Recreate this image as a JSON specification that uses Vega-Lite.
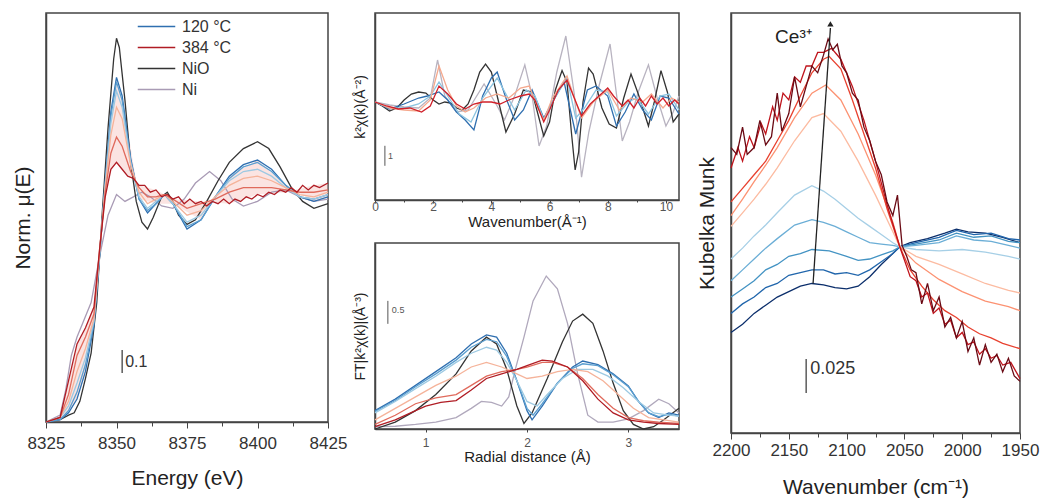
{
"$schema":"https://vega.github.io/schema/vega-lite/v6.json",
"padding":{"left":11,"top":12,"right":0,"bottom":0},
"config":{
 "font":"Liberation Sans",
 "view":{"stroke":"#444","strokeWidth":1.5},
 "axis":{"grid":false,"labelFlush":false,"domainColor":"#444","domainWidth":1.5,"tickColor":"#444","labelColor":"#333","titleColor":"#222","titleFontWeight":"normal"},
 "line":{"strokeWidth":1.3}
},
"datasets":{
"xanes":[
{"s":"Ni","x":8325,"y":0},{"s":"Ni","x":8330,"y":0.03},{"s":"Ni","x":8332,"y":0.14},{"s":"Ni","x":8334,"y":0.29},{"s":"Ni","x":8336,"y":0.37},{"s":"Ni","x":8338,"y":0.43},{"s":"Ni","x":8341,"y":0.52},{"s":"Ni","x":8344,"y":0.72},{"s":"Ni","x":8347,"y":0.9},{"s":"Ni","x":8350,"y":0.99},{"s":"Ni","x":8353,"y":0.96},{"s":"Ni","x":8356,"y":0.98},{"s":"Ni","x":8359,"y":1.0},{"s":"Ni","x":8362,"y":0.98},{"s":"Ni","x":8366,"y":0.94},{"s":"Ni","x":8370,"y":0.93},{"s":"Ni","x":8374,"y":0.97},{"s":"Ni","x":8378,"y":1.04},{"s":"Ni","x":8383,"y":1.09},{"s":"Ni","x":8387,"y":1.05},{"s":"Ni","x":8391,"y":0.97},{"s":"Ni","x":8395,"y":0.94},{"s":"Ni","x":8400,"y":0.96},{"s":"Ni","x":8405,"y":1.0},{"s":"Ni","x":8410,"y":1.01},{"s":"Ni","x":8415,"y":0.98},{"s":"Ni","x":8420,"y":0.96},{"s":"Ni","x":8425,"y":0.97},
{"s":"NiO","x":8325,"y":0},{"s":"NiO","x":8330,"y":0.01},{"s":"NiO","x":8333,"y":0.03},{"s":"NiO","x":8335,"y":0.04},{"s":"NiO","x":8337,"y":0.09},{"s":"NiO","x":8339,"y":0.19},{"s":"NiO","x":8341,"y":0.3},{"s":"NiO","x":8343,"y":0.52},{"s":"NiO","x":8345,"y":0.92},{"s":"NiO","x":8347,"y":1.28},{"s":"NiO","x":8349,"y":1.58},{"s":"NiO","x":8350,"y":1.67},{"s":"NiO","x":8351,"y":1.63},{"s":"NiO","x":8353,"y":1.4},{"s":"NiO","x":8355,"y":1.13},{"s":"NiO","x":8357,"y":0.96},{"s":"NiO","x":8359,"y":0.87},{"s":"NiO","x":8361,"y":0.84},{"s":"NiO","x":8363,"y":0.89},{"s":"NiO","x":8366,"y":0.98},{"s":"NiO","x":8368,"y":1.0},{"s":"NiO","x":8370,"y":0.96},{"s":"NiO","x":8372,"y":0.9},{"s":"NiO","x":8375,"y":0.86},{"s":"NiO","x":8378,"y":0.88},{"s":"NiO","x":8382,"y":0.96},{"s":"NiO","x":8386,"y":1.05},{"s":"NiO","x":8390,"y":1.13},{"s":"NiO","x":8395,"y":1.19},{"s":"NiO","x":8400,"y":1.22},{"s":"NiO","x":8404,"y":1.19},{"s":"NiO","x":8408,"y":1.11},{"s":"NiO","x":8412,"y":1.02},{"s":"NiO","x":8416,"y":0.96},{"s":"NiO","x":8420,"y":0.93},{"s":"NiO","x":8425,"y":0.95},
{"s":"120 °C","x":8325,"y":0},{"s":"120 °C","x":8330,"y":0.01},{"s":"120 °C","x":8333,"y":0.04},{"s":"120 °C","x":8336,"y":0.1},{"s":"120 °C","x":8339,"y":0.22},{"s":"120 °C","x":8342,"y":0.42},{"s":"120 °C","x":8344,"y":0.72},{"s":"120 °C","x":8346,"y":1.05},{"s":"120 °C","x":8348,"y":1.35},{"s":"120 °C","x":8350,"y":1.5},{"s":"120 °C","x":8352,"y":1.42},{"s":"120 °C","x":8355,"y":1.15},{"s":"120 °C","x":8358,"y":0.97},{"s":"120 °C","x":8361,"y":0.91},{"s":"120 °C","x":8364,"y":0.95},{"s":"120 °C","x":8367,"y":0.99},{"s":"120 °C","x":8370,"y":0.95},{"s":"120 °C","x":8375,"y":0.84},{"s":"120 °C","x":8380,"y":0.88},{"s":"120 °C","x":8385,"y":0.98},{"s":"120 °C","x":8390,"y":1.07},{"s":"120 °C","x":8395,"y":1.12},{"s":"120 °C","x":8400,"y":1.14},{"s":"120 °C","x":8405,"y":1.1},{"s":"120 °C","x":8410,"y":1.03},{"s":"120 °C","x":8415,"y":0.98},{"s":"120 °C","x":8420,"y":0.96},{"s":"120 °C","x":8425,"y":0.98},
{"s":"170 °C","x":8325,"y":0},{"s":"170 °C","x":8330,"y":0.01},{"s":"170 °C","x":8333,"y":0.05},{"s":"170 °C","x":8336,"y":0.13},{"s":"170 °C","x":8339,"y":0.25},{"s":"170 °C","x":8342,"y":0.43},{"s":"170 °C","x":8344,"y":0.72},{"s":"170 °C","x":8346,"y":1.04},{"s":"170 °C","x":8348,"y":1.33},{"s":"170 °C","x":8350,"y":1.48},{"s":"170 °C","x":8352,"y":1.4},{"s":"170 °C","x":8355,"y":1.14},{"s":"170 °C","x":8358,"y":0.97},{"s":"170 °C","x":8361,"y":0.92},{"s":"170 °C","x":8364,"y":0.95},{"s":"170 °C","x":8367,"y":0.99},{"s":"170 °C","x":8370,"y":0.95},{"s":"170 °C","x":8375,"y":0.85},{"s":"170 °C","x":8380,"y":0.88},{"s":"170 °C","x":8385,"y":0.98},{"s":"170 °C","x":8390,"y":1.06},{"s":"170 °C","x":8395,"y":1.11},{"s":"170 °C","x":8400,"y":1.13},{"s":"170 °C","x":8405,"y":1.09},{"s":"170 °C","x":8410,"y":1.03},{"s":"170 °C","x":8415,"y":0.98},{"s":"170 °C","x":8420,"y":0.97},{"s":"170 °C","x":8425,"y":0.99},
{"s":"220 °C","x":8325,"y":0},{"s":"220 °C","x":8330,"y":0.02},{"s":"220 °C","x":8333,"y":0.07},{"s":"220 °C","x":8336,"y":0.17},{"s":"220 °C","x":8339,"y":0.28},{"s":"220 °C","x":8342,"y":0.44},{"s":"220 °C","x":8344,"y":0.73},{"s":"220 °C","x":8346,"y":1.03},{"s":"220 °C","x":8348,"y":1.3},{"s":"220 °C","x":8350,"y":1.44},{"s":"220 °C","x":8352,"y":1.37},{"s":"220 °C","x":8355,"y":1.13},{"s":"220 °C","x":8358,"y":0.98},{"s":"220 °C","x":8361,"y":0.93},{"s":"220 °C","x":8364,"y":0.96},{"s":"220 °C","x":8367,"y":0.99},{"s":"220 °C","x":8370,"y":0.95},{"s":"220 °C","x":8375,"y":0.87},{"s":"220 °C","x":8380,"y":0.9},{"s":"220 °C","x":8385,"y":0.98},{"s":"220 °C","x":8390,"y":1.05},{"s":"220 °C","x":8395,"y":1.09},{"s":"220 °C","x":8400,"y":1.1},{"s":"220 °C","x":8405,"y":1.07},{"s":"220 °C","x":8410,"y":1.02},{"s":"220 °C","x":8415,"y":0.98},{"s":"220 °C","x":8420,"y":0.97},{"s":"220 °C","x":8425,"y":0.99},
{"s":"270 °C","x":8325,"y":0},{"s":"270 °C","x":8330,"y":0.02},{"s":"270 °C","x":8333,"y":0.09},{"s":"270 °C","x":8336,"y":0.22},{"s":"270 °C","x":8339,"y":0.32},{"s":"270 °C","x":8342,"y":0.45},{"s":"270 °C","x":8344,"y":0.74},{"s":"270 °C","x":8346,"y":1.02},{"s":"270 °C","x":8348,"y":1.25},{"s":"270 °C","x":8350,"y":1.37},{"s":"270 °C","x":8352,"y":1.32},{"s":"270 °C","x":8355,"y":1.12},{"s":"270 °C","x":8358,"y":1.0},{"s":"270 °C","x":8361,"y":0.95},{"s":"270 °C","x":8364,"y":0.97},{"s":"270 °C","x":8367,"y":0.99},{"s":"270 °C","x":8370,"y":0.96},{"s":"270 °C","x":8375,"y":0.9},{"s":"270 °C","x":8380,"y":0.92},{"s":"270 °C","x":8385,"y":0.98},{"s":"270 °C","x":8390,"y":1.03},{"s":"270 °C","x":8395,"y":1.06},{"s":"270 °C","x":8400,"y":1.07},{"s":"270 °C","x":8405,"y":1.05},{"s":"270 °C","x":8410,"y":1.02},{"s":"270 °C","x":8415,"y":0.99},{"s":"270 °C","x":8420,"y":0.98},{"s":"270 °C","x":8425,"y":1.0},
{"s":"330 °C","x":8325,"y":0},{"s":"330 °C","x":8330,"y":0.02},{"s":"330 °C","x":8333,"y":0.12},{"s":"330 °C","x":8336,"y":0.29},{"s":"330 °C","x":8339,"y":0.37},{"s":"330 °C","x":8342,"y":0.47},{"s":"330 °C","x":8344,"y":0.75},{"s":"330 °C","x":8346,"y":1.0},{"s":"330 °C","x":8348,"y":1.17},{"s":"330 °C","x":8350,"y":1.24},{"s":"330 °C","x":8352,"y":1.2},{"s":"330 °C","x":8355,"y":1.09},{"s":"330 °C","x":8358,"y":1.02},{"s":"330 °C","x":8361,"y":0.98},{"s":"330 °C","x":8364,"y":0.98},{"s":"330 °C","x":8367,"y":0.99},{"s":"330 °C","x":8370,"y":0.97},{"s":"330 °C","x":8375,"y":0.93},{"s":"330 °C","x":8380,"y":0.95},{"s":"330 °C","x":8385,"y":0.97},{"s":"330 °C","x":8390,"y":1.0},{"s":"330 °C","x":8395,"y":1.02},{"s":"330 °C","x":8400,"y":1.02},{"s":"330 °C","x":8405,"y":1.02},{"s":"330 °C","x":8410,"y":1.01},{"s":"330 °C","x":8415,"y":1.0},{"s":"330 °C","x":8420,"y":1.0},{"s":"330 °C","x":8425,"y":1.01},
{"s":"384 °C","x":8325,"y":0},{"s":"384 °C","x":8330,"y":0.02},{"s":"384 °C","x":8333,"y":0.18},{"s":"384 °C","x":8336,"y":0.34},{"s":"384 °C","x":8339,"y":0.41},{"s":"384 °C","x":8342,"y":0.5},{"s":"384 °C","x":8344,"y":0.75},{"s":"384 °C","x":8346,"y":0.98},{"s":"384 °C","x":8348,"y":1.1},{"s":"384 °C","x":8350,"y":1.13},{"s":"384 °C","x":8352,"y":1.1},{"s":"384 °C","x":8354,"y":1.07},{"s":"384 °C","x":8356,"y":1.06},{"s":"384 °C","x":8358,"y":1.03},{"s":"384 °C","x":8360,"y":1.03},{"s":"384 °C","x":8362,"y":1.0},{"s":"384 °C","x":8364,"y":1.01},{"s":"384 °C","x":8366,"y":0.98},{"s":"384 °C","x":8368,"y":0.99},{"s":"384 °C","x":8370,"y":0.97},{"s":"384 °C","x":8372,"y":0.98},{"s":"384 °C","x":8374,"y":0.95},{"s":"384 °C","x":8376,"y":0.97},{"s":"384 °C","x":8378,"y":0.95},{"s":"384 °C","x":8380,"y":0.96},{"s":"384 °C","x":8382,"y":0.94},{"s":"384 °C","x":8384,"y":0.96},{"s":"384 °C","x":8386,"y":0.95},{"s":"384 °C","x":8388,"y":0.97},{"s":"384 °C","x":8390,"y":0.95},{"s":"384 °C","x":8392,"y":0.97},{"s":"384 °C","x":8394,"y":0.96},{"s":"384 °C","x":8396,"y":0.98},{"s":"384 °C","x":8398,"y":0.97},{"s":"384 °C","x":8400,"y":0.99},{"s":"384 °C","x":8402,"y":0.98},{"s":"384 °C","x":8404,"y":1.0},{"s":"384 °C","x":8406,"y":0.99},{"s":"384 °C","x":8408,"y":1.01},{"s":"384 °C","x":8410,"y":1.0},{"s":"384 °C","x":8412,"y":1.02},{"s":"384 °C","x":8414,"y":1.0},{"s":"384 °C","x":8416,"y":1.03},{"s":"384 °C","x":8418,"y":1.01},{"s":"384 °C","x":8420,"y":1.03},{"s":"384 °C","x":8422,"y":1.02},{"s":"384 °C","x":8425,"y":1.04}
],
"exafs":[
{"s":"Ni","x":0,"y":0},{"s":"Ni","x":0.5,"y":-0.15},{"s":"Ni","x":1.0,"y":-0.25},{"s":"Ni","x":1.5,"y":-0.3},{"s":"Ni","x":1.9,"y":0.2},{"s":"Ni","x":2.15,"y":2.1},{"s":"Ni","x":2.4,"y":0.3},{"s":"Ni","x":2.8,"y":-0.5},{"s":"Ni","x":3.2,"y":-0.4},{"s":"Ni","x":3.75,"y":0.9},{"s":"Ni","x":4.2,"y":-0.2},{"s":"Ni","x":4.45,"y":-0.9},{"s":"Ni","x":4.8,"y":0.3},{"s":"Ni","x":5.15,"y":1.86},{"s":"Ni","x":5.4,"y":0.3},{"s":"Ni","x":5.64,"y":-2.2},{"s":"Ni","x":5.9,"y":-1.2},{"s":"Ni","x":6.25,"y":1.5},{"s":"Ni","x":6.56,"y":3.3},{"s":"Ni","x":6.85,"y":0.4},{"s":"Ni","x":7.1,"y":-3.76},{"s":"Ni","x":7.35,"y":-1.5},{"s":"Ni","x":7.7,"y":0.8},{"s":"Ni","x":8.08,"y":2.9},{"s":"Ni","x":8.3,"y":0.4},{"s":"Ni","x":8.5,"y":-1.95},{"s":"Ni","x":8.75,"y":-1.0},{"s":"Ni","x":9.05,"y":0.5},{"s":"Ni","x":9.4,"y":1.86},{"s":"Ni","x":9.7,"y":0.2},{"s":"Ni","x":10.0,"y":-1.2},{"s":"Ni","x":10.25,"y":-0.5},{"s":"Ni","x":10.45,"y":0.3},
{"s":"NiO","x":0,"y":0},{"s":"NiO","x":0.25,"y":-0.2},{"s":"NiO","x":0.5,"y":-0.45},{"s":"NiO","x":0.75,"y":-0.3},{"s":"NiO","x":1.0,"y":0.1},{"s":"NiO","x":1.25,"y":0.4},{"s":"NiO","x":1.5,"y":0.5},{"s":"NiO","x":1.75,"y":0.45},{"s":"NiO","x":2.0,"y":0.1},{"s":"NiO","x":2.2,"y":-0.1},{"s":"NiO","x":2.4,"y":0.0},{"s":"NiO","x":2.6,"y":-0.05},{"s":"NiO","x":2.8,"y":-0.3},{"s":"NiO","x":3.0,"y":-0.4},{"s":"NiO","x":3.2,"y":-0.1},{"s":"NiO","x":3.4,"y":0.6},{"s":"NiO","x":3.6,"y":1.5},{"s":"NiO","x":3.8,"y":1.9},{"s":"NiO","x":4.0,"y":1.5},{"s":"NiO","x":4.2,"y":0.3},{"s":"NiO","x":4.5,"y":-1.5},{"s":"NiO","x":4.8,"y":-0.6},{"s":"NiO","x":5.1,"y":0.6},{"s":"NiO","x":5.4,"y":0.5},{"s":"NiO","x":5.6,"y":-0.6},{"s":"NiO","x":5.8,"y":-1.7},{"s":"NiO","x":6.0,"y":-1.0},{"s":"NiO","x":6.2,"y":0.6},{"s":"NiO","x":6.43,"y":1.57},{"s":"NiO","x":6.6,"y":1.0},{"s":"NiO","x":6.75,"y":-1.5},{"s":"NiO","x":6.88,"y":-3.4},{"s":"NiO","x":7.0,"y":-2.5},{"s":"NiO","x":7.15,"y":0.0},{"s":"NiO","x":7.34,"y":1.7},{"s":"NiO","x":7.5,"y":1.4},{"s":"NiO","x":7.8,"y":-0.3},{"s":"NiO","x":8.05,"y":-1.1},{"s":"NiO","x":8.3,"y":-1.3},{"s":"NiO","x":8.55,"y":0.2},{"s":"NiO","x":8.8,"y":1.4},{"s":"NiO","x":9.05,"y":0.4},{"s":"NiO","x":9.4,"y":-1.2},{"s":"NiO","x":9.6,"y":0.0},{"s":"NiO","x":9.83,"y":1.57},{"s":"NiO","x":10.05,"y":0.5},{"s":"NiO","x":10.25,"y":-1.0},{"s":"NiO","x":10.45,"y":-0.6},
{"s":"120 °C","x":0,"y":0},{"s":"120 °C","x":0.5,"y":-0.35},{"s":"120 °C","x":1.0,"y":-0.1},{"s":"120 °C","x":1.5,"y":0.2},{"s":"120 °C","x":1.8,"y":0.3},{"s":"120 °C","x":2.2,"y":0.5},{"s":"120 °C","x":2.5,"y":0.1},{"s":"120 °C","x":2.8,"y":-0.5},{"s":"120 °C","x":3.1,"y":-0.9},{"s":"120 °C","x":3.4,"y":-1.4},{"s":"120 °C","x":3.7,"y":0.3},{"s":"120 °C","x":4.0,"y":1.2},{"s":"120 °C","x":4.2,"y":1.5},{"s":"120 °C","x":4.5,"y":0.2},{"s":"120 °C","x":4.8,"y":-0.9},{"s":"120 °C","x":5.1,"y":-0.4},{"s":"120 °C","x":5.4,"y":0.6},{"s":"120 °C","x":5.8,"y":-0.8},{"s":"120 °C","x":6.1,"y":0.0},{"s":"120 °C","x":6.5,"y":1.0},{"s":"120 °C","x":6.9,"y":-1.6},{"s":"120 °C","x":7.3,"y":0.6},{"s":"120 °C","x":7.6,"y":0.8},{"s":"120 °C","x":8.0,"y":0.3},{"s":"120 °C","x":8.3,"y":-1.2},{"s":"120 °C","x":8.6,"y":-0.5},{"s":"120 °C","x":8.9,"y":0.4},{"s":"120 °C","x":9.2,"y":-0.4},{"s":"120 °C","x":9.5,"y":-0.9},{"s":"120 °C","x":9.8,"y":0.3},{"s":"120 °C","x":10.1,"y":0.2},{"s":"120 °C","x":10.45,"y":-0.6},
{"s":"220 °C","x":0,"y":0},{"s":"220 °C","x":0.5,"y":-0.3},{"s":"220 °C","x":1.0,"y":-0.3},{"s":"220 °C","x":1.5,"y":-0.1},{"s":"220 °C","x":1.9,"y":0.3},{"s":"220 °C","x":2.2,"y":1.0},{"s":"220 °C","x":2.5,"y":0.3},{"s":"220 °C","x":2.9,"y":-0.6},{"s":"220 °C","x":3.3,"y":-1.0},{"s":"220 °C","x":3.7,"y":0.2},{"s":"220 °C","x":4.2,"y":1.2},{"s":"220 °C","x":4.5,"y":0.4},{"s":"220 °C","x":4.8,"y":-0.4},{"s":"220 °C","x":5.2,"y":0.6},{"s":"220 °C","x":5.5,"y":0.3},{"s":"220 °C","x":5.8,"y":-0.9},{"s":"220 °C","x":6.1,"y":0.0},{"s":"220 °C","x":6.6,"y":1.2},{"s":"220 °C","x":6.9,"y":-0.8},{"s":"220 °C","x":7.2,"y":-0.3},{"s":"220 °C","x":7.6,"y":0.6},{"s":"220 °C","x":8.0,"y":0.5},{"s":"220 °C","x":8.3,"y":-0.7},{"s":"220 °C","x":8.7,"y":0.0},{"s":"220 °C","x":9.0,"y":0.2},{"s":"220 °C","x":9.4,"y":-0.6},{"s":"220 °C","x":9.8,"y":0.3},{"s":"220 °C","x":10.1,"y":0.4},{"s":"220 °C","x":10.45,"y":-0.4},
{"s":"300 °C","x":0,"y":0},{"s":"300 °C","x":0.5,"y":-0.3},{"s":"300 °C","x":1.0,"y":-0.4},{"s":"300 °C","x":1.5,"y":-0.45},{"s":"300 °C","x":1.9,"y":0.1},{"s":"300 °C","x":2.2,"y":1.8},{"s":"300 °C","x":2.5,"y":0.6},{"s":"300 °C","x":2.8,"y":-0.2},{"s":"300 °C","x":3.1,"y":-0.5},{"s":"300 °C","x":3.4,"y":-0.3},{"s":"300 °C","x":3.8,"y":0.2},{"s":"300 °C","x":4.2,"y":0.4},{"s":"300 °C","x":4.6,"y":0.2},{"s":"300 °C","x":5.0,"y":0.7},{"s":"300 °C","x":5.3,"y":0.8},{"s":"300 °C","x":5.6,"y":-0.3},{"s":"300 °C","x":5.8,"y":-0.9},{"s":"300 °C","x":6.1,"y":0.2},{"s":"300 °C","x":6.6,"y":1.3},{"s":"300 °C","x":6.9,"y":0.0},{"s":"300 °C","x":7.1,"y":-0.8},{"s":"300 °C","x":7.5,"y":0.0},{"s":"300 °C","x":8.0,"y":0.6},{"s":"300 °C","x":8.4,"y":-0.4},{"s":"300 °C","x":8.8,"y":0.2},{"s":"300 °C","x":9.2,"y":0.0},{"s":"300 °C","x":9.5,"y":0.4},{"s":"300 °C","x":9.9,"y":-0.3},{"s":"300 °C","x":10.2,"y":0.2},{"s":"300 °C","x":10.45,"y":0.0},
{"s":"384 °C","x":0,"y":0},{"s":"384 °C","x":0.4,"y":-0.2},{"s":"384 °C","x":0.8,"y":-0.35},{"s":"384 °C","x":1.2,"y":-0.3},{"s":"384 °C","x":1.6,"y":-0.5},{"s":"384 °C","x":1.9,"y":-0.2},{"s":"384 °C","x":2.2,"y":0.8},{"s":"384 °C","x":2.5,"y":0.4},{"s":"384 °C","x":2.8,"y":-0.1},{"s":"384 °C","x":3.1,"y":-0.35},{"s":"384 °C","x":3.4,"y":-0.1},{"s":"384 °C","x":3.7,"y":0.0},{"s":"384 °C","x":4.0,"y":0.0},{"s":"384 °C","x":4.3,"y":-0.1},{"s":"384 °C","x":4.6,"y":0.1},{"s":"384 °C","x":5.0,"y":0.3},{"s":"384 °C","x":5.3,"y":0.4},{"s":"384 °C","x":5.5,"y":0.1},{"s":"384 °C","x":5.8,"y":-1.0},{"s":"384 °C","x":6.0,"y":-0.4},{"s":"384 °C","x":6.3,"y":0.6},{"s":"384 °C","x":6.6,"y":1.1},{"s":"384 °C","x":6.85,"y":0.2},{"s":"384 °C","x":7.1,"y":-0.7},{"s":"384 °C","x":7.4,"y":-0.1},{"s":"384 °C","x":7.7,"y":0.3},{"s":"384 °C","x":8.0,"y":0.7},{"s":"384 °C","x":8.2,"y":0.3},{"s":"384 °C","x":8.5,"y":-0.2},{"s":"384 °C","x":8.7,"y":0.1},{"s":"384 °C","x":8.9,"y":-0.3},{"s":"384 °C","x":9.1,"y":0.2},{"s":"384 °C","x":9.3,"y":-0.2},{"s":"384 °C","x":9.5,"y":0.3},{"s":"384 °C","x":9.7,"y":-0.1},{"s":"384 °C","x":9.9,"y":0.2},{"s":"384 °C","x":10.1,"y":-0.2},{"s":"384 °C","x":10.3,"y":0.1},{"s":"384 °C","x":10.45,"y":-0.1}
],
"ft":[
{"s":"Ni","x":0.5,"y":0.05},{"s":"Ni","x":0.7,"y":0.06},{"s":"Ni","x":0.9,"y":0.1},{"s":"Ni","x":1.1,"y":0.15},{"s":"Ni","x":1.3,"y":0.25},{"s":"Ni","x":1.45,"y":0.45},{"s":"Ni","x":1.55,"y":0.6},{"s":"Ni","x":1.65,"y":0.58},{"s":"Ni","x":1.75,"y":0.5},{"s":"Ni","x":1.82,"y":0.7},{"s":"Ni","x":1.88,"y":1.26},{"s":"Ni","x":1.97,"y":2.0},{"s":"Ni","x":2.06,"y":2.79},{"s":"Ni","x":2.19,"y":3.33},{"s":"Ni","x":2.3,"y":3.05},{"s":"Ni","x":2.4,"y":2.3},{"s":"Ni","x":2.5,"y":1.2},{"s":"Ni","x":2.6,"y":0.3},{"s":"Ni","x":2.7,"y":0.15},{"s":"Ni","x":2.85,"y":0.15},{"s":"Ni","x":3.0,"y":0.22},{"s":"Ni","x":3.15,"y":0.4},{"s":"Ni","x":3.3,"y":0.65},{"s":"Ni","x":3.4,"y":0.55},{"s":"Ni","x":3.5,"y":0.35},
{"s":"NiO","x":0.5,"y":0.0},{"s":"NiO","x":0.7,"y":0.15},{"s":"NiO","x":0.9,"y":0.4},{"s":"NiO","x":1.1,"y":0.75},{"s":"NiO","x":1.3,"y":1.2},{"s":"NiO","x":1.45,"y":1.7},{"s":"NiO","x":1.6,"y":2.0},{"s":"NiO","x":1.7,"y":1.85},{"s":"NiO","x":1.8,"y":1.3},{"s":"NiO","x":1.9,"y":0.5},{"s":"NiO","x":1.97,"y":0.12},{"s":"NiO","x":2.05,"y":0.35},{"s":"NiO","x":2.2,"y":1.1},{"s":"NiO","x":2.35,"y":1.9},{"s":"NiO","x":2.45,"y":2.35},{"s":"NiO","x":2.55,"y":2.5},{"s":"NiO","x":2.65,"y":2.3},{"s":"NiO","x":2.75,"y":1.7},{"s":"NiO","x":2.85,"y":1.0},{"s":"NiO","x":2.95,"y":0.4},{"s":"NiO","x":3.05,"y":0.1},{"s":"NiO","x":3.15,"y":0.0},{"s":"NiO","x":3.25,"y":0.05},{"s":"NiO","x":3.35,"y":0.2},{"s":"NiO","x":3.5,"y":0.45},
{"s":"120 °C","x":0.5,"y":0.4},{"s":"120 °C","x":0.7,"y":0.65},{"s":"120 °C","x":0.9,"y":0.95},{"s":"120 °C","x":1.1,"y":1.25},{"s":"120 °C","x":1.3,"y":1.55},{"s":"120 °C","x":1.45,"y":1.85},{"s":"120 °C","x":1.6,"y":2.05},{"s":"120 °C","x":1.7,"y":2.0},{"s":"120 °C","x":1.8,"y":1.65},{"s":"120 °C","x":1.9,"y":1.05},{"s":"120 °C","x":2.0,"y":0.4},{"s":"120 °C","x":2.05,"y":0.2},{"s":"120 °C","x":2.15,"y":0.5},{"s":"120 °C","x":2.3,"y":1.0},{"s":"120 °C","x":2.45,"y":1.35},{"s":"120 °C","x":2.55,"y":1.48},{"s":"120 °C","x":2.7,"y":1.4},{"s":"120 °C","x":2.85,"y":1.2},{"s":"120 °C","x":3.0,"y":0.94},{"s":"120 °C","x":3.1,"y":0.6},{"s":"120 °C","x":3.2,"y":0.35},{"s":"120 °C","x":3.3,"y":0.25},{"s":"120 °C","x":3.4,"y":0.35},{"s":"120 °C","x":3.5,"y":0.3},
{"s":"170 °C","x":0.5,"y":0.38},{"s":"170 °C","x":0.7,"y":0.62},{"s":"170 °C","x":0.9,"y":0.92},{"s":"170 °C","x":1.1,"y":1.2},{"s":"170 °C","x":1.3,"y":1.5},{"s":"170 °C","x":1.45,"y":1.78},{"s":"170 °C","x":1.6,"y":1.95},{"s":"170 °C","x":1.7,"y":1.9},{"s":"170 °C","x":1.8,"y":1.58},{"s":"170 °C","x":1.9,"y":1.05},{"s":"170 °C","x":2.0,"y":0.45},{"s":"170 °C","x":2.06,"y":0.3},{"s":"170 °C","x":2.15,"y":0.55},{"s":"170 °C","x":2.3,"y":1.0},{"s":"170 °C","x":2.45,"y":1.32},{"s":"170 °C","x":2.55,"y":1.42},{"s":"170 °C","x":2.7,"y":1.38},{"s":"170 °C","x":2.85,"y":1.18},{"s":"170 °C","x":3.0,"y":0.92},{"s":"170 °C","x":3.1,"y":0.6},{"s":"170 °C","x":3.2,"y":0.35},{"s":"170 °C","x":3.3,"y":0.27},{"s":"170 °C","x":3.4,"y":0.32},{"s":"170 °C","x":3.5,"y":0.28},
{"s":"220 °C","x":0.5,"y":0.35},{"s":"220 °C","x":0.7,"y":0.6},{"s":"220 °C","x":0.9,"y":0.88},{"s":"220 °C","x":1.1,"y":1.15},{"s":"220 °C","x":1.3,"y":1.45},{"s":"220 °C","x":1.45,"y":1.65},{"s":"220 °C","x":1.6,"y":1.78},{"s":"220 °C","x":1.7,"y":1.72},{"s":"220 °C","x":1.8,"y":1.45},{"s":"220 °C","x":1.9,"y":1.05},{"s":"220 °C","x":2.0,"y":0.6},{"s":"220 °C","x":2.1,"y":0.5},{"s":"220 °C","x":2.2,"y":0.75},{"s":"220 °C","x":2.35,"y":1.1},{"s":"220 °C","x":2.5,"y":1.3},{"s":"220 °C","x":2.65,"y":1.3},{"s":"220 °C","x":2.8,"y":1.15},{"s":"220 °C","x":2.95,"y":0.9},{"s":"220 °C","x":3.1,"y":0.6},{"s":"220 °C","x":3.25,"y":0.35},{"s":"220 °C","x":3.4,"y":0.3},{"s":"220 °C","x":3.5,"y":0.28},
{"s":"270 °C","x":0.5,"y":0.2},{"s":"270 °C","x":0.7,"y":0.45},{"s":"270 °C","x":0.9,"y":0.7},{"s":"270 °C","x":1.1,"y":0.95},{"s":"270 °C","x":1.3,"y":1.15},{"s":"270 °C","x":1.45,"y":1.35},{"s":"270 °C","x":1.6,"y":1.45},{"s":"270 °C","x":1.75,"y":1.35},{"s":"270 °C","x":1.9,"y":1.2},{"s":"270 °C","x":2.0,"y":1.1},{"s":"270 °C","x":2.15,"y":1.15},{"s":"270 °C","x":2.3,"y":1.25},{"s":"270 °C","x":2.45,"y":1.3},{"s":"270 °C","x":2.6,"y":1.25},{"s":"270 °C","x":2.75,"y":1.05},{"s":"270 °C","x":2.9,"y":0.75},{"s":"270 °C","x":3.05,"y":0.45},{"s":"270 °C","x":3.2,"y":0.25},{"s":"270 °C","x":3.35,"y":0.2},{"s":"270 °C","x":3.5,"y":0.15},
{"s":"330 °C","x":0.5,"y":0.1},{"s":"330 °C","x":0.7,"y":0.3},{"s":"330 °C","x":0.9,"y":0.55},{"s":"330 °C","x":1.1,"y":0.68},{"s":"330 °C","x":1.3,"y":0.75},{"s":"330 °C","x":1.45,"y":0.95},{"s":"330 °C","x":1.6,"y":1.15},{"s":"330 °C","x":1.75,"y":1.25},{"s":"330 °C","x":1.9,"y":1.3},{"s":"330 °C","x":2.0,"y":1.35},{"s":"330 °C","x":2.15,"y":1.45},{"s":"330 °C","x":2.25,"y":1.45},{"s":"330 °C","x":2.4,"y":1.35},{"s":"330 °C","x":2.55,"y":1.1},{"s":"330 °C","x":2.7,"y":0.75},{"s":"330 °C","x":2.85,"y":0.45},{"s":"330 °C","x":3.0,"y":0.25},{"s":"330 °C","x":3.15,"y":0.18},{"s":"330 °C","x":3.3,"y":0.15},{"s":"330 °C","x":3.5,"y":0.12},
{"s":"384 °C","x":0.5,"y":0.05},{"s":"384 °C","x":0.7,"y":0.2},{"s":"384 °C","x":0.9,"y":0.4},{"s":"384 °C","x":1.0,"y":0.5},{"s":"384 °C","x":1.15,"y":0.58},{"s":"384 °C","x":1.3,"y":0.62},{"s":"384 °C","x":1.45,"y":0.85},{"s":"384 °C","x":1.6,"y":1.1},{"s":"384 °C","x":1.75,"y":1.2},{"s":"384 °C","x":1.9,"y":1.3},{"s":"384 °C","x":2.0,"y":1.38},{"s":"384 °C","x":2.15,"y":1.5},{"s":"384 °C","x":2.25,"y":1.48},{"s":"384 °C","x":2.4,"y":1.35},{"s":"384 °C","x":2.55,"y":1.05},{"s":"384 °C","x":2.7,"y":0.65},{"s":"384 °C","x":2.85,"y":0.35},{"s":"384 °C","x":3.0,"y":0.2},{"s":"384 °C","x":3.15,"y":0.15},{"s":"384 °C","x":3.3,"y":0.12},{"s":"384 °C","x":3.5,"y":0.1}
],
"drifts":[
{"s":"t01","x":2200,"y":0.074},{"s":"t01","x":2190,"y":0.08},{"s":"t01","x":2180,"y":0.088},{"s":"t01","x":2170,"y":0.094},{"s":"t01","x":2160,"y":0.1},{"s":"t01","x":2150,"y":0.104},{"s":"t01","x":2140,"y":0.108},{"s":"t01","x":2130,"y":0.11},{"s":"t01","x":2120,"y":0.109},{"s":"t01","x":2110,"y":0.107},{"s":"t01","x":2100,"y":0.106},{"s":"t01","x":2090,"y":0.108},{"s":"t01","x":2080,"y":0.115},{"s":"t01","x":2070,"y":0.124},{"s":"t01","x":2060,"y":0.132},{"s":"t01","x":2054,"y":0.137},{"s":"t01","x":2045,"y":0.14},{"s":"t01","x":2030,"y":0.143},{"s":"t01","x":2015,"y":0.147},{"s":"t01","x":2005,"y":0.15},{"s":"t01","x":1995,"y":0.148},{"s":"t01","x":1980,"y":0.147},{"s":"t01","x":1965,"y":0.144},{"s":"t01","x":1950,"y":0.14},
{"s":"t02","x":2200,"y":0.088},{"s":"t02","x":2190,"y":0.095},{"s":"t02","x":2180,"y":0.1},{"s":"t02","x":2170,"y":0.107},{"s":"t02","x":2160,"y":0.11},{"s":"t02","x":2150,"y":0.116},{"s":"t02","x":2140,"y":0.118},{"s":"t02","x":2130,"y":0.12},{"s":"t02","x":2120,"y":0.12},{"s":"t02","x":2110,"y":0.117},{"s":"t02","x":2100,"y":0.118},{"s":"t02","x":2090,"y":0.116},{"s":"t02","x":2080,"y":0.12},{"s":"t02","x":2070,"y":0.126},{"s":"t02","x":2060,"y":0.132},{"s":"t02","x":2054,"y":0.137},{"s":"t02","x":2040,"y":0.14},{"s":"t02","x":2020,"y":0.144},{"s":"t02","x":2005,"y":0.149},{"s":"t02","x":1990,"y":0.146},{"s":"t02","x":1975,"y":0.147},{"s":"t02","x":1960,"y":0.143},{"s":"t02","x":1950,"y":0.142},
{"s":"t03","x":2200,"y":0.1},{"s":"t03","x":2190,"y":0.106},{"s":"t03","x":2180,"y":0.112},{"s":"t03","x":2170,"y":0.12},{"s":"t03","x":2160,"y":0.124},{"s":"t03","x":2150,"y":0.13},{"s":"t03","x":2140,"y":0.132},{"s":"t03","x":2130,"y":0.135},{"s":"t03","x":2115,"y":0.134},{"s":"t03","x":2100,"y":0.13},{"s":"t03","x":2090,"y":0.127},{"s":"t03","x":2080,"y":0.128},{"s":"t03","x":2070,"y":0.131},{"s":"t03","x":2060,"y":0.134},{"s":"t03","x":2054,"y":0.137},{"s":"t03","x":2040,"y":0.139},{"s":"t03","x":2020,"y":0.142},{"s":"t03","x":2005,"y":0.147},{"s":"t03","x":1990,"y":0.144},{"s":"t03","x":1975,"y":0.145},{"s":"t03","x":1960,"y":0.141},{"s":"t03","x":1950,"y":0.14},
{"s":"t04","x":2200,"y":0.112},{"s":"t04","x":2190,"y":0.12},{"s":"t04","x":2180,"y":0.128},{"s":"t04","x":2170,"y":0.136},{"s":"t04","x":2160,"y":0.143},{"s":"t04","x":2145,"y":0.153},{"s":"t04","x":2130,"y":0.157},{"s":"t04","x":2120,"y":0.155},{"s":"t04","x":2110,"y":0.152},{"s":"t04","x":2100,"y":0.148},{"s":"t04","x":2090,"y":0.144},{"s":"t04","x":2080,"y":0.14},{"s":"t04","x":2070,"y":0.139},{"s":"t04","x":2060,"y":0.138},{"s":"t04","x":2054,"y":0.137},{"s":"t04","x":2040,"y":0.138},{"s":"t04","x":2020,"y":0.14},{"s":"t04","x":2005,"y":0.145},{"s":"t04","x":1990,"y":0.142},{"s":"t04","x":1975,"y":0.141},{"s":"t04","x":1960,"y":0.138},{"s":"t04","x":1950,"y":0.136},
{"s":"t05","x":2200,"y":0.128},{"s":"t05","x":2190,"y":0.136},{"s":"t05","x":2180,"y":0.145},{"s":"t05","x":2170,"y":0.153},{"s":"t05","x":2160,"y":0.162},{"s":"t05","x":2145,"y":0.175},{"s":"t05","x":2130,"y":0.182},{"s":"t05","x":2120,"y":0.178},{"s":"t05","x":2110,"y":0.172},{"s":"t05","x":2100,"y":0.165},{"s":"t05","x":2090,"y":0.158},{"s":"t05","x":2080,"y":0.152},{"s":"t05","x":2070,"y":0.146},{"s":"t05","x":2060,"y":0.14},{"s":"t05","x":2054,"y":0.137},{"s":"t05","x":2040,"y":0.135},{"s":"t05","x":2020,"y":0.134},{"s":"t05","x":2000,"y":0.135},{"s":"t05","x":1980,"y":0.133},{"s":"t05","x":1960,"y":0.13},{"s":"t05","x":1950,"y":0.128},
{"s":"t06","x":2200,"y":0.152},{"s":"t06","x":2190,"y":0.162},{"s":"t06","x":2180,"y":0.172},{"s":"t06","x":2170,"y":0.183},{"s":"t06","x":2160,"y":0.195},{"s":"t06","x":2145,"y":0.215},{"s":"t06","x":2130,"y":0.232},{"s":"t06","x":2120,"y":0.235},{"s":"t06","x":2105,"y":0.222},{"s":"t06","x":2090,"y":0.2},{"s":"t06","x":2075,"y":0.175},{"s":"t06","x":2060,"y":0.148},{"s":"t06","x":2054,"y":0.137},{"s":"t06","x":2040,"y":0.13},{"s":"t06","x":2020,"y":0.124},{"s":"t06","x":2000,"y":0.117},{"s":"t06","x":1980,"y":0.11},{"s":"t06","x":1960,"y":0.105},{"s":"t06","x":1950,"y":0.103},
{"s":"t07","x":2200,"y":0.16},{"s":"t07","x":2190,"y":0.172},{"s":"t07","x":2180,"y":0.185},{"s":"t07","x":2170,"y":0.197},{"s":"t07","x":2160,"y":0.21},{"s":"t07","x":2145,"y":0.232},{"s":"t07","x":2130,"y":0.25},{"s":"t07","x":2118,"y":0.256},{"s":"t07","x":2105,"y":0.245},{"s":"t07","x":2090,"y":0.22},{"s":"t07","x":2075,"y":0.19},{"s":"t07","x":2060,"y":0.155},{"s":"t07","x":2054,"y":0.137},{"s":"t07","x":2040,"y":0.125},{"s":"t07","x":2020,"y":0.113},{"s":"t07","x":2000,"y":0.104},{"s":"t07","x":1980,"y":0.097},{"s":"t07","x":1960,"y":0.093},{"s":"t07","x":1950,"y":0.09},
{"s":"t08","x":2200,"y":0.17},{"s":"t08","x":2190,"y":0.18},{"s":"t08","x":2180,"y":0.19},{"s":"t08","x":2170,"y":0.2},{"s":"t08","x":2160,"y":0.215},{"s":"t08","x":2150,"y":0.23},{"s":"t08","x":2140,"y":0.248},{"s":"t08","x":2130,"y":0.265},{"s":"t08","x":2120,"y":0.275},{"s":"t08","x":2115,"y":0.277},{"s":"t08","x":2105,"y":0.268},{"s":"t08","x":2095,"y":0.245},{"s":"t08","x":2085,"y":0.22},{"s":"t08","x":2075,"y":0.195},{"s":"t08","x":2065,"y":0.165},{"s":"t08","x":2054,"y":0.137},{"s":"t08","x":2045,"y":0.12},{"s":"t08","x":2035,"y":0.108},{"s":"t08","x":2025,"y":0.098},{"s":"t08","x":2015,"y":0.09},{"s":"t08","x":2005,"y":0.085},{"s":"t08","x":1995,"y":0.078},{"s":"t08","x":1985,"y":0.073},{"s":"t08","x":1975,"y":0.07},{"s":"t08","x":1965,"y":0.066},{"s":"t08","x":1950,"y":0.062},
{"s":"t09","x":2200,"y":0.195},{"s":"t09","x":2194,"y":0.21},{"s":"t09","x":2190,"y":0.2},{"s":"t09","x":2184,"y":0.218},{"s":"t09","x":2180,"y":0.21},{"s":"t09","x":2174,"y":0.228},{"s":"t09","x":2170,"y":0.22},{"s":"t09","x":2164,"y":0.24},{"s":"t09","x":2160,"y":0.23},{"s":"t09","x":2155,"y":0.25},{"s":"t09","x":2150,"y":0.245},{"s":"t09","x":2145,"y":0.262},{"s":"t09","x":2140,"y":0.258},{"s":"t09","x":2135,"y":0.27},{"s":"t09","x":2130,"y":0.27},{"s":"t09","x":2125,"y":0.28},{"s":"t09","x":2120,"y":0.28},{"s":"t09","x":2113,"y":0.283},{"s":"t09","x":2105,"y":0.275},{"s":"t09","x":2095,"y":0.255},{"s":"t09","x":2085,"y":0.23},{"s":"t09","x":2075,"y":0.2},{"s":"t09","x":2065,"y":0.168},{"s":"t09","x":2054,"y":0.137},{"s":"t09","x":2045,"y":0.115},{"s":"t09","x":2040,"y":0.112},{"s":"t09","x":2035,"y":0.1},{"s":"t09","x":2030,"y":0.103},{"s":"t09","x":2025,"y":0.088},{"s":"t09","x":2020,"y":0.092},{"s":"t09","x":2015,"y":0.08},{"s":"t09","x":2010,"y":0.083},{"s":"t09","x":2005,"y":0.07},{"s":"t09","x":2000,"y":0.074},{"s":"t09","x":1995,"y":0.065},{"s":"t09","x":1990,"y":0.067},{"s":"t09","x":1985,"y":0.058},{"s":"t09","x":1980,"y":0.062},{"s":"t09","x":1975,"y":0.055},{"s":"t09","x":1970,"y":0.057},{"s":"t09","x":1965,"y":0.05},{"s":"t09","x":1958,"y":0.052},{"s":"t09","x":1950,"y":0.04},
{"s":"t10","x":2200,"y":0.21},{"s":"t10","x":2195,"y":0.205},{"s":"t10","x":2190,"y":0.225},{"s":"t10","x":2186,"y":0.205},{"s":"t10","x":2180,"y":0.21},{"s":"t10","x":2175,"y":0.23},{"s":"t10","x":2170,"y":0.212},{"s":"t10","x":2165,"y":0.218},{"s":"t10","x":2160,"y":0.25},{"s":"t10","x":2156,"y":0.222},{"s":"t10","x":2150,"y":0.235},{"s":"t10","x":2145,"y":0.262},{"s":"t10","x":2140,"y":0.24},{"s":"t10","x":2135,"y":0.255},{"s":"t10","x":2130,"y":0.27},{"s":"t10","x":2125,"y":0.265},{"s":"t10","x":2120,"y":0.278},{"s":"t10","x":2116,"y":0.29},{"s":"t10","x":2112,"y":0.282},{"s":"t10","x":2108,"y":0.286},{"s":"t10","x":2104,"y":0.27},{"s":"t10","x":2100,"y":0.265},{"s":"t10","x":2095,"y":0.25},{"s":"t10","x":2090,"y":0.245},{"s":"t10","x":2085,"y":0.225},{"s":"t10","x":2080,"y":0.215},{"s":"t10","x":2075,"y":0.2},{"s":"t10","x":2070,"y":0.19},{"s":"t10","x":2065,"y":0.17},{"s":"t10","x":2060,"y":0.16},{"s":"t10","x":2056,"y":0.175},{"s":"t10","x":2052,"y":0.138},{"s":"t10","x":2048,"y":0.13},{"s":"t10","x":2044,"y":0.12},{"s":"t10","x":2040,"y":0.118},{"s":"t10","x":2035,"y":0.095},{"s":"t10","x":2030,"y":0.11},{"s":"t10","x":2025,"y":0.09},{"s":"t10","x":2020,"y":0.1},{"s":"t10","x":2015,"y":0.078},{"s":"t10","x":2010,"y":0.085},{"s":"t10","x":2005,"y":0.07},{"s":"t10","x":2000,"y":0.082},{"s":"t10","x":1995,"y":0.06},{"s":"t10","x":1990,"y":0.07},{"s":"t10","x":1985,"y":0.05},{"s":"t10","x":1980,"y":0.065},{"s":"t10","x":1975,"y":0.052},{"s":"t10","x":1970,"y":0.058},{"s":"t10","x":1965,"y":0.045},{"s":"t10","x":1960,"y":0.055},{"s":"t10","x":1955,"y":0.042},{"s":"t10","x":1950,"y":0.038}
],
"bar1":[{"x":8352,"y":0.213,"y2":0.313,"ym":0.263,"t":"0.1"}],
"bar2":[{"x":0.34,"y":-3.19,"y2":-2.19,"ym":-2.69,"t":"1"}],
"bar3":[{"x":0.627,"y":2.29,"y2":2.79,"ym":2.6,"t":"0.5"}],
"bar4":[{"x":2135,"y":0.0294,"y2":0.0544,"ym":0.047,"t":"0.025"}],
"arrow":[{"x":2129,"y":0.11,"x2":2114,"y2":0.298}],
"head":[{"x":2114,"y":0.301}],
"lab4":[{"x":2146,"y":0.291,"t":"Ce³⁺"}]
},
"hconcat":[
 {"hconcat":[
  {"width":282,"height":409,
   "resolve":{"axis":{"x":"independent"}},
   "layer":[
    {"data":{"name":"xanes"},
     "transform":[{"filter":{"field":"s","oneOf":["120 °C","384 °C"]}},{"pivot":"s","value":"y","groupby":["x"]},{"filter":"isValid(datum['120 °C']) && isValid(datum['384 °C'])"}],
     "mark":{"type":"area","color":"#f4b3ad","opacity":0.35},
     "encoding":{
      "x":{"field":"x","type":"quantitative","axis":null},
      "y":{"field":"120 °C","type":"quantitative"},
      "y2":{"field":"384 °C"}
     }},
    {"data":{"name":"xanes"},"mark":{"type":"line","strokeWidth":1.3},
     "encoding":{
      "x":{"field":"x","type":"quantitative","scale":{"domain":[8325,8425],"nice":false,"zero":false},
           "axis":{"orient":"bottom","values":[8325,8350,8375,8400,8425],"format":"d","labelFontSize":17,"titleFontSize":21,"title":"Energy (eV)","tickSize":6,"labelPadding":7,"titlePadding":16}},
      "y":{"field":"y","type":"quantitative","scale":{"domain":[0,1.78],"nice":false},
           "axis":{"labels":false,"ticks":false,"title":"Norm. μ(E)","titleFontSize":21,"titlePadding":13}},
      "color":{"field":"s","type":"nominal",
        "scale":{"domain":["120 °C","170 °C","220 °C","270 °C","330 °C","384 °C","NiO","Ni"],"range":["#2f6fb0","#5b9fd0","#9cc9e2","#f5b39a","#e06a5c","#b01c24","#333333","#a99bb5"]},
        "legend":{"orient":"none","legendX":102,"legendY":5,"values":["120 °C","384 °C","NiO","Ni"],"symbolType":"M-2.5,0H2.5","symbolSize":225,"symbolStrokeWidth":1.2,"labelFontSize":16,"labelColor":"#333","title":null,"rowPadding":4,"labelOffset":17,"padding":0}}
     }},
    {"data":{"name":"bar1"},"mark":{"type":"rule","color":"#333","strokeWidth":1.2},
     "encoding":{"x":{"field":"x","type":"quantitative","axis":{"orient":"bottom","values":[8337.5,8362.5,8387.5,8412.5],"labels":false,"tickSize":4,"domain":false,"title":null}},"y":{"field":"y","type":"quantitative"},"y2":{"field":"y2"}}},
    {"data":{"name":"bar1"},"mark":{"type":"text","align":"left","dx":3,"fontSize":16,"color":"#333"},
     "encoding":{"x":{"field":"x","type":"quantitative","axis":null},"y":{"field":"ym","type":"quantitative"},"text":{"field":"t"}}}
   ]},
  {"vconcat":[
   {"width":304,"height":187,
    "resolve":{"axis":{"x":"independent"}},
    "layer":[
     {"data":{"name":"exafs"},"mark":{"type":"line","strokeWidth":1.3},
      "encoding":{
       "x":{"field":"x","type":"quantitative","scale":{"domain":[0,10.45],"nice":false,"zero":false},
            "axis":{"orient":"bottom","values":[0,2,4,6,8,10],"labelFontSize":12,"labelColor":"#555","titleFontSize":15,"title":"Wavenumber(Å⁻¹)","tickSize":3,"labelPadding":-2,"titlePadding":2}},
       "y":{"field":"y","type":"quantitative","scale":{"domain":[-4.9,4.45],"nice":false,"zero":false},
            "axis":{"labels":false,"ticks":false,"title":"k²χ(k)(Å⁻²)","titleFontSize":14,"titlePadding":8}},
       "color":{"field":"s","type":"nominal",
         "scale":{"domain":["120 °C","220 °C","300 °C","384 °C","NiO","Ni"],"range":["#2f6fb0","#8cc4e0","#f5a98e","#d0202a","#333333","#b8b3c0"]},
         "legend":null}
      }},
     {"data":{"name":"bar2"},"mark":{"type":"rule","color":"#555","strokeWidth":1},
      "encoding":{"x":{"field":"x","type":"quantitative","axis":{"orient":"bottom","values":[1,3,5,7,9],"labels":false,"tickSize":2,"domain":false,"title":null}},"y":{"field":"y","type":"quantitative"},"y2":{"field":"y2"}}},
     {"data":{"name":"bar2"},"mark":{"type":"text","align":"left","dx":3,"fontSize":9,"color":"#555"},
      "encoding":{"x":{"field":"x","type":"quantitative","axis":null},"y":{"field":"ym","type":"quantitative"},"text":{"field":"t"}}}
    ]},
   {"width":304,"height":186,
    "layer":[
     {"data":{"name":"ft"},"mark":{"type":"line","strokeWidth":1.3},
      "encoding":{
       "x":{"field":"x","type":"quantitative","scale":{"domain":[0.5,3.5],"nice":false,"zero":false},
            "axis":{"values":[1,2,3],"format":"d","labelFontSize":12,"labelColor":"#555","titleFontSize":15,"title":"Radial distance (Å)","tickSize":3,"labelPadding":5,"titlePadding":1}},
       "y":{"field":"y","type":"quantitative","scale":{"domain":[0,4.05],"nice":false},
            "axis":{"labels":false,"ticks":false,"title":"FT|k²χ(k)|(Å⁻³)","titleFontSize":14,"titlePadding":8}},
       "color":{"field":"s","type":"nominal",
         "scale":{"domain":["120 °C","170 °C","220 °C","270 °C","330 °C","384 °C","NiO","Ni"],"range":["#2f6fb0","#5b9fd0","#9cc9e2","#f5b39a","#e06a5c","#b01c24","#333333","#b0a8bc"]},
         "legend":null}
      }},
     {"data":{"name":"bar3"},"mark":{"type":"rule","color":"#555","strokeWidth":1},
      "encoding":{"x":{"field":"x","type":"quantitative"},"y":{"field":"y","type":"quantitative"},"y2":{"field":"y2"}}},
     {"data":{"name":"bar3"},"mark":{"type":"text","align":"left","dx":4,"fontSize":9,"color":"#555"},
      "encoding":{"x":{"field":"x","type":"quantitative"},"y":{"field":"ym","type":"quantitative"},"text":{"field":"t"}}}
    ]}
  ],"spacing":43,"bounds":"flush","resolve":{"scale":{"color":"independent"},"legend":{"color":"independent"}}}
 ],"spacing":47,"bounds":"flush","resolve":{"scale":{"color":"independent"},"legend":{"color":"independent"}}},
 {"width":289,"height":420,
  "resolve":{"axis":{"x":"independent"}},
  "layer":[
   {"data":{"name":"drifts"},"mark":{"type":"line","strokeWidth":1.3},
    "encoding":{
     "x":{"field":"x","type":"quantitative","scale":{"domain":[1950,2200],"reverse":true,"nice":false,"zero":false},
          "axis":{"orient":"bottom","values":[1950,2000,2050,2100,2150,2200],"format":"d","labelFontSize":17,"titleFontSize":21,"title":"Wavenumber (cm⁻¹)","tickSize":6,"labelPadding":3,"titlePadding":18}},
     "y":{"field":"y","type":"quantitative","scale":{"domain":[0,0.309],"nice":false},
          "axis":{"labels":false,"ticks":false,"title":"Kubelka Munk","titleFontSize":21,"titlePadding":14}},
     "color":{"field":"s","type":"nominal",
       "scale":{"domain":["t01","t02","t03","t04","t05","t06","t07","t08","t09","t10"],"range":["#0b2e6b","#2166ac","#4393c3","#6baed6","#a6cfe6","#fcbba1","#fc9272","#e8412f","#c0141c","#6a0a14"]},
       "legend":null}
    }},
   {"data":{"name":"arrow"},"mark":{"type":"rule","color":"#222","strokeWidth":1.3},
    "encoding":{"x":{"field":"x","type":"quantitative","axis":null},"y":{"field":"y","type":"quantitative"},"x2":{"field":"x2"},"y2":{"field":"y2"}}},
   {"data":{"name":"head"},"mark":{"type":"point","shape":"triangle-up","filled":true,"color":"#222","size":40,"opacity":1},
    "encoding":{"x":{"field":"x","type":"quantitative","axis":null},"y":{"field":"y","type":"quantitative"}}},
   {"data":{"name":"lab4"},"mark":{"type":"text","fontSize":19,"color":"#222"},
    "encoding":{"x":{"field":"x","type":"quantitative","axis":null},"y":{"field":"y","type":"quantitative"},"text":{"field":"t"}}},
   {"data":{"name":"bar4"},"mark":{"type":"rule","color":"#333","strokeWidth":1.2},
    "encoding":{"x":{"field":"x","type":"quantitative","axis":{"orient":"bottom","values":[1975,2025,2075,2125,2175],"labels":false,"tickSize":4,"domain":false,"title":null}},"y":{"field":"y","type":"quantitative"},"y2":{"field":"y2"}}},
   {"data":{"name":"bar4"},"mark":{"type":"text","align":"left","dx":4,"fontSize":18,"color":"#333"},
    "encoding":{"x":{"field":"x","type":"quantitative","axis":null},"y":{"field":"ym","type":"quantitative"},"text":{"field":"t"}}}
  ]}
],
"spacing":12,"bounds":"full","resolve":{"scale":{"color":"independent"},"legend":{"color":"independent"}}
}
